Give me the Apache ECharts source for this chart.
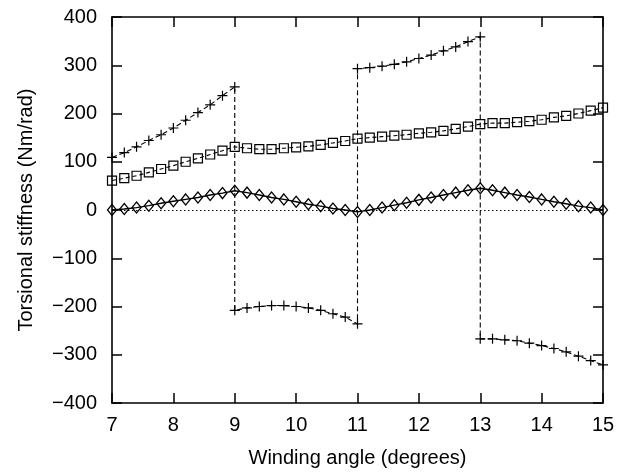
<!DOCTYPE html>
<html><head><meta charset="utf-8">
<script src="https://cdn.jsdelivr.net/npm/echarts@6/dist/echarts.min.js"></script>
<style>html,body{margin:0;padding:0;background:#fff}#c{width:626px;height:473px}</style>
</head><body><div id="c"></div>
<script>
const windingAngle = [7,7.2,7.4,7.6,7.8,8,8.2,8.4,8.6,8.8,9,9.2,9.4,9.6,9.8,10,10.2,10.4,10.6,10.8,11,11.2,11.4,11.6,11.8,12,12.2,12.4,12.6,12.8,13,13.2,13.4,13.6,13.8,14,14.2,14.4,14.6,14.8,15];
// "+" series, four branches (7-9, 9-11, 11-13, 13-15)
const plusBranch1 = [109,119,131,144,156,170,186,202,218,237,255];
const plusBranch2 = [-208,-203,-200,-198,-198,-200,-203,-208,-215,-222,-236];
const plusBranch3 = [293,295,298,302,307,314,321,330,338,349,359];
const plusBranch4 = [-267,-267,-269,-271,-276,-281,-287,-294,-303,-312,-321];
// square series
const squareValues = [61,66,71,78,85,92,100,107,115,123,131,128,126,126,128,130,132,135,139,143,148,150,152,154,156,159,161,164,168,173,178,180,180,182,184,187,192,195,200,206,212];
// diamond series
const diamondValues = [0,2,5,9,14,18,22,26,31,35,40,36,31,26,22,17,12,8,3,0,-4,0,5,10,15,21,26,31,36,41,45,41,36,31,27,22,17,13,8,5,0];
const yTicks = [-400,-300,-200,-100,0,100,200,300,400];
const xTicks = [7,8,9,10,11,12,13,14,15];

function branchPairs(values, startIdx){
  return values.map((v,i)=>[windingAngle[startIdx+i], v]);
}
const plusData = [].concat(
  branchPairs(plusBranch1,0),
  branchPairs(plusBranch2,10),
  branchPairs(plusBranch3,20),
  branchPairs(plusBranch4,30)
);
const squareData = squareValues.map((v,i)=>[windingAngle[i], v]);
const diamondData = diamondValues.map((v,i)=>[windingAngle[i], v]);

const FONT = '"Liberation Sans", Arial, Helvetica, sans-serif';
const plusPath = 'path://M4.4,0H5.6V4.4H10V5.6H5.6V10H4.4V5.6H0V4.4H4.4Z';

const chart = echarts.init(document.getElementById('c'), null, {renderer:'canvas'});
const axisLine = {show:true, onZero:false, lineStyle:{color:'#000', width:1.6}};
const tick = {show:true, inside:true, length:10, lineStyle:{color:'#000', width:1.5}};
chart.setOption({
  animation:false,
  backgroundColor:'#fff',
  grid:{left:112, right:23, top:17, bottom:68},
  xAxis:[{
    type:'value', min:xTicks[0], max:xTicks[xTicks.length-1], interval:1,
    name:'Winding angle (degrees)', nameLocation:'middle', nameGap:45,
    nameTextStyle:{fontSize:20, color:'#000', fontFamily:FONT},
    axisLine:axisLine, axisTick:tick, splitLine:{show:false},
    axisLabel:{fontSize:20, color:'#000', fontFamily:FONT, margin:12}
  },{
    type:'value', position:'top', min:xTicks[0], max:xTicks[xTicks.length-1], interval:1,
    axisLine:axisLine, axisTick:tick, splitLine:{show:false}, axisLabel:{show:false}
  }],
  yAxis:[{
    type:'value', min:yTicks[0], max:yTicks[yTicks.length-1], interval:100,
    name:'Torsional stiffness (Nm/rad)', nameLocation:'middle', nameGap:76,
    nameTextStyle:{fontSize:20, color:'#000', fontFamily:FONT},
    axisLine:axisLine, axisTick:tick, splitLine:{show:false},
    axisLabel:{fontSize:20, color:'#000', fontFamily:FONT, margin:15,
      formatter:v=>String(v).replace('-','\u2212')}
  },{
    type:'value', position:'right', min:yTicks[0], max:yTicks[yTicks.length-1], interval:100,
    axisLine:axisLine, axisTick:tick, splitLine:{show:false}, axisLabel:{show:false}
  }],
  series:[{
    type:'line', data:diamondData, symbol:'diamond', symbolSize:[9,11],
    lineStyle:{color:'#000', width:1.4, type:'solid'},
    itemStyle:{color:'rgba(0,0,0,0)', borderColor:'#000', borderWidth:1.3},
    z:3,
    markLine:{silent:true, symbol:['none','none'], label:{show:false},
      lineStyle:{color:'#000', type:[1.5,2.5], width:1.2}, data:[{yAxis:0}]}
  },{
    type:'line', data:squareData, symbol:'rect', symbolSize:9,
    lineStyle:{color:'#000', width:1.1, type:[4,3]},
    itemStyle:{color:'rgba(0,0,0,0)', borderColor:'#000', borderWidth:1.2}
  },{
    type:'line', data:plusData, symbol:plusPath, symbolSize:10,
    lineStyle:{color:'#000', width:1.1, type:[5,3]},
    itemStyle:{color:'#000', borderWidth:0}
  }]
});
</script></body></html>
